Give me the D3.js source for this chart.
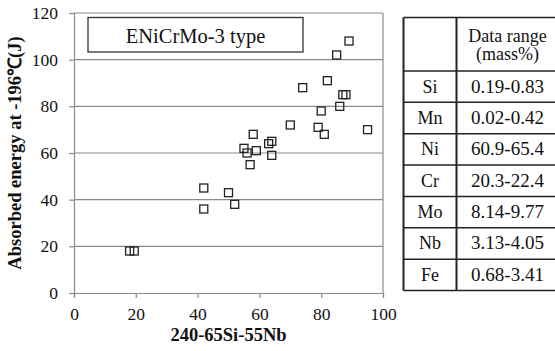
<!DOCTYPE html>
<html>
<head>
<meta charset="utf-8">
<script src="https://cdn.jsdelivr.net/npm/d3@7"></script>
<style>
  html, body { margin: 0; padding: 0; background: #fff; }
  svg { display: block; }
  svg text { font-family: "Liberation Serif", "Times New Roman", "DejaVu Serif", serif; }
</style>
</head>
<body>
<svg id="chart" width="555" height="351"></svg>
<script>
// Scatter: 240-65Si-55Nb vs absorbed energy at -196 C
const xVals = [18, 19.5, 42, 42, 50, 52, 55, 56, 57, 58, 59, 63, 64, 64, 70, 74, 79, 80, 81, 82, 85, 86, 87, 88, 89, 95];
const yVals = [18, 18, 45, 36, 43, 38, 62, 60, 55, 68, 61, 64, 65, 59, 72, 88, 71, 78, 68, 91, 102, 80, 85, 85, 108, 70];
const xTicks = [0, 20, 40, 60, 80, 100];
const yTicks = [0, 20, 40, 60, 80, 100, 120];

// Composition table
const elements = ['Si', 'Mn', 'Ni', 'Cr', 'Mo', 'Nb', 'Fe'];
const ranges = ['0.19-0.83', '0.02-0.42', '60.9-65.4', '20.3-22.4', '8.14-9.77', '3.13-4.05', '0.68-3.41'];

const serif = '"Liberation Serif", "Times New Roman", serif';
const svg = d3.select('#chart');
const plot = { left: 74, right: 383, top: 13, bottom: 293 };

const x = d3.scaleLinear().domain([0, 100]).range([plot.left, plot.right]);
const y = d3.scaleLinear().domain([0, 120]).range([plot.bottom, plot.top]);

// gridlines
svg.append('g')
  .selectAll('line')
  .data(yTicks.filter(d => d > 0))
  .join('line')
  .attr('x1', plot.left).attr('x2', plot.right)
  .attr('y1', d => y(d)).attr('y2', d => y(d))
  .attr('stroke', '#8a8a8a').attr('stroke-width', 1.2);

// right border
svg.append('line')
  .attr('x1', plot.right).attr('x2', plot.right)
  .attr('y1', plot.top).attr('y2', plot.bottom)
  .attr('stroke', '#8a8a8a').attr('stroke-width', 1.2);

// axes
const xAxis = svg.append('g')
  .attr('transform', `translate(0,${plot.bottom})`)
  .call(d3.axisBottom(x).tickValues(xTicks).tickSize(5).tickPadding(10));
const yAxis = svg.append('g')
  .attr('transform', `translate(${plot.left},0)`)
  .call(d3.axisLeft(y).tickValues(yTicks).tickSize(5).tickPadding(11));

[xAxis, yAxis].forEach(a => {
  a.attr('font-family', null);
  a.select('.domain').attr('stroke', '#8a8a8a').attr('stroke-width', 1.2);
  a.selectAll('.tick line').attr('stroke', '#8a8a8a').attr('stroke-width', 1.2);
  a.selectAll('.tick text')
    .style('font-family', serif)
    .attr('font-size', 17.5)
    .attr('fill', '#111');
});

// legend box
svg.append('rect')
  .attr('x', 88).attr('y', 17.5).attr('width', 215).attr('height', 34.5)
  .attr('fill', '#fff').attr('stroke', '#333').attr('stroke-width', 1.3);
svg.append('text')
  .attr('x', 195.5).attr('y', 42.5)
  .attr('text-anchor', 'middle')
  .style('font-family', serif)
  .attr('font-size', 20.5).attr('fill', '#111')
  .text('ENiCrMo-3 type');

// points
const sq = 8;
svg.append('g')
  .selectAll('rect')
  .data(xVals.map((v, i) => [v, yVals[i]]))
  .join('rect')
  .attr('x', d => x(d[0]) - sq / 2)
  .attr('y', d => y(d[1]) - sq / 2)
  .attr('width', sq).attr('height', sq)
  .attr('fill', 'none')
  .attr('stroke', '#222').attr('stroke-width', 1.3);

// axis titles
svg.append('text')
  .attr('x', (plot.left + plot.right) / 2).attr('y', 341)
  .attr('text-anchor', 'middle')
  .style('font-family', serif)
  .attr('font-size', 18.5).attr('font-weight', 'bold').attr('fill', '#111')
  .text('240-65Si-55Nb');

svg.append('text')
  .attr('transform', `translate(21,${(plot.top + plot.bottom) / 2}) rotate(-90)`)
  .attr('text-anchor', 'middle')
  .style('font-family', serif)
  .attr('font-size', 18.5).attr('font-weight', 'bold').attr('fill', '#111')
  .text('Absorbed energy at -196℃(J)');

// table
const tb = { left: 403.5, mid: 456.5, right: 556, top: 17.5, head: 71 };
const rowY = d3.scaleLinear().domain([0, elements.length]).range([tb.head, 290.5]);
const tg = svg.append('g');

tg.selectAll('line.h')
  .data(d3.range(elements.length + 1))
  .join('line')
  .attr('x1', tb.left).attr('x2', tb.right)
  .attr('y1', d => rowY(d)).attr('y2', d => rowY(d))
  .attr('stroke', '#222').attr('stroke-width', 1.5);
tg.append('line')
  .attr('x1', tb.left).attr('x2', tb.right)
  .attr('y1', tb.top).attr('y2', tb.top)
  .attr('stroke', '#222').attr('stroke-width', 1.5);
[tb.left, tb.mid].forEach(xx => {
  tg.append('line')
    .attr('x1', xx).attr('x2', xx)
    .attr('y1', tb.top).attr('y2', rowY(elements.length))
    .attr('stroke', '#222').attr('stroke-width', 2);
});

const c1 = (tb.left + tb.mid) / 2, c2 = 507.5;
tg.append('text').attr('x', c2).attr('y', 41.5)
  .attr('text-anchor', 'middle').style('font-family', serif)
  .attr('font-size', 18).attr('fill', '#111')
  .text('Data range');
tg.append('text').attr('x', c2).attr('y', 60)
  .attr('text-anchor', 'middle').style('font-family', serif)
  .attr('font-size', 18).attr('fill', '#111')
  .text('(mass%)');

tg.selectAll('text.el')
  .data(elements)
  .join('text')
  .attr('class', 'el')
  .attr('x', c1).attr('y', (d, i) => (rowY(i) + rowY(i + 1)) / 2 + 6)
  .attr('text-anchor', 'middle').style('font-family', serif)
  .attr('font-size', 18).attr('fill', '#111')
  .text(d => d);
tg.selectAll('text.rg')
  .data(ranges)
  .join('text')
  .attr('class', 'rg')
  .attr('x', c2).attr('y', (d, i) => (rowY(i) + rowY(i + 1)) / 2 + 6)
  .attr('text-anchor', 'middle').style('font-family', serif)
  .attr('font-size', 19).attr('fill', '#111')
  .text(d => d);
</script>
</body>
</html>
